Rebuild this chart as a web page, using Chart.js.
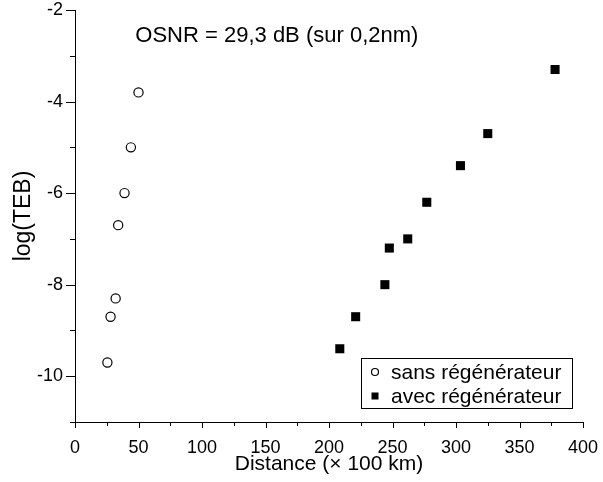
<!DOCTYPE html>
<html>
<head>
<meta charset="utf-8">
<script src="https://cdn.jsdelivr.net/npm/chart.js@4/dist/chart.umd.min.js"></script>
<style>
  html, body { margin: 0; padding: 0; background: #fff; }
  #wrap { width: 603px; height: 482px; }
</style>
</head>
<body>
<div id="wrap"><canvas id="mycanvas"></canvas></div>
<script>
// data
var sansDistance = [25.5, 28, 32, 34, 39, 44, 50];
var sansLogTEB   = [-9.7, -8.7, -8.3, -6.7, -6.0, -5.0, -3.8];

var avecDistance = [208.5, 221, 244, 247.5, 262, 277, 303.5, 325, 378];
var avecLogTEB   = [-9.4, -8.7, -8.0, -7.2, -7.0, -6.2, -5.4, -4.7, -3.3];

var xTicks = [0, 50, 100, 150, 200, 250, 300, 350, 400];
var yTicks = [-10, -8, -6, -4, -2];

var annotation = "OSNR = 29,3 dB (sur 0,2nm)";
var fontFamily = "'Liberation Sans', Arial, Helvetica, sans-serif";

function toPoints(xs, ys) {
	var pts = [];
	for (var i in xs) {
		pts.push({x: xs[i], y: ys[i]});
	}
	return pts;
}

// tick marks (long for labelled, short for the others), OSNR text and legend box
var decorPlugin = {
	id: 'decor',
	afterDraw: function(chart) {
		var ctx = chart.ctx;
		var xs = chart.scales.x, ys = chart.scales.y;
		var area = chart.chartArea;
		ctx.save();
		ctx.strokeStyle = '#000';
		ctx.lineWidth = 1;
		ctx.beginPath();
		for (var v = -11; v <= -2; v++) {
			var py = Math.round(ys.getPixelForValue(v)) + 0.5;
			var len = (yTicks.indexOf(v) >= 0) ? 9 : 5;
			ctx.moveTo(area.left, py);
			ctx.lineTo(area.left - len, py);
		}
		for (var d = 0; d <= 400; d += 25) {
			var px = Math.round(xs.getPixelForValue(d)) + 0.5;
			var l2 = (xTicks.indexOf(d) >= 0) ? 6 : 4;
			ctx.moveTo(px, area.bottom);
			ctx.lineTo(px, area.bottom + l2);
		}
		ctx.stroke();

		// annotation
		ctx.fillStyle = '#000';
		ctx.font = '22px ' + fontFamily;
		ctx.textAlign = 'left';
		ctx.textBaseline = 'alphabetic';
		ctx.fillText(annotation, xs.getPixelForValue(47.5), 42);

		// legend
		var bx = area.right - 222, by = area.bottom - 64, bw = 211, bh = 50;
		ctx.fillStyle = '#fff';
		ctx.fillRect(bx, by, bw, bh);
		ctx.strokeStyle = '#000';
		ctx.lineWidth = 1;
		ctx.strokeRect(bx + 0.5, by + 0.5, bw, bh);
		var sets = chart.data.datasets;
		ctx.font = '21px ' + fontFamily;
		ctx.textBaseline = 'middle';
		for (var k = 0; k < sets.length; k++) {
			var cy = by + 14 + k * 24;
			var cx = bx + 14;
			if (sets[k].pointStyle === 'circle') {
				ctx.beginPath();
				ctx.arc(cx, cy, 3.5, 0, Math.PI * 2);
				ctx.lineWidth = 1.2;
				ctx.stroke();
			} else {
				ctx.fillStyle = '#000';
				ctx.fillRect(cx - 3.5, cy - 3.5, 7, 7);
			}
			ctx.fillStyle = '#000';
			ctx.fillText(sets[k].label, bx + 30, cy + 1);
		}
		ctx.restore();
	}
};

var chartdata = {
	datasets: [
		{
			label: "sans régénérateur",
			data: toPoints(sansDistance, sansLogTEB),
			pointStyle: 'circle',
			pointRadius: 4.6,
			pointBorderWidth: 1.2,
			borderColor: '#000',
			backgroundColor: 'rgba(255,255,255,0)',
			showLine: false
		},
		{
			label: "avec régénérateur",
			data: toPoints(avecDistance, avecLogTEB),
			pointStyle: 'rect',
			pointRadius: 6.4,
			pointBorderWidth: 0,
			borderColor: '#000',
			backgroundColor: '#000',
			showLine: false
		}
	]
};

var ctx = document.getElementById('mycanvas');

var ScatterGraph = new Chart(ctx, {
	type: 'scatter',
	data: chartdata,
	plugins: [decorPlugin],
	options: {
		responsive: true,
		maintainAspectRatio: false,
		animation: false,
		layout: { padding: 0 },
		plugins: {
			legend: { display: false },
			tooltip: { enabled: false }
		},
		scales: {
			x: {
				type: 'linear',
				min: 0,
				max: 400,
				afterFit: function(scale) {
					scale.height = 60;
					scale.paddingLeft = 0;
					scale.paddingRight = 20;
				},
				afterBuildTicks: function(scale) {
					scale.ticks = xTicks.map(function(v) { return {value: v}; });
				},
				grid: { display: true, drawOnChartArea: false, drawTicks: false },
				border: { display: true, color: '#000', width: 1 },
				ticks: {
					color: '#000',
					padding: 15,
					maxRotation: 0,
					font: { family: fontFamily, size: 18 }
				},
				title: {
					display: true,
					text: 'Distance (\u00d7 100 km)',
					color: '#000',
					font: { family: fontFamily, size: 21 },
					padding: { top: 0, bottom: 5 }
				}
			},
			y: {
				type: 'linear',
				min: -11,
				max: -2,
				afterFit: function(scale) {
					scale.width = 75;
					scale.paddingTop = 10;
					scale.paddingBottom = 0;
				},
				afterBuildTicks: function(scale) {
					scale.ticks = yTicks.map(function(v) { return {value: v}; });
				},
				grid: { display: true, drawOnChartArea: false, drawTicks: false },
				border: { display: true, color: '#000', width: 1 },
				ticks: {
					color: '#000',
					padding: 12,
					font: { family: fontFamily, size: 18, lineHeight: 1 }
				},
				title: {
					display: true,
					text: 'log(TEB)',
					color: '#000',
					font: { family: fontFamily, size: 23 },
					padding: { top: 10, bottom: 0 }
				}
			}
		}
	}
});
</script>
</body>
</html>
